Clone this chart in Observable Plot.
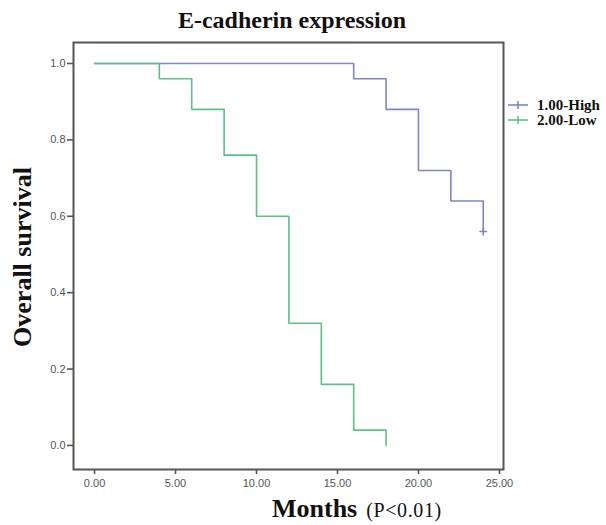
<!DOCTYPE html>
<html>
<head>
<meta charset="utf-8">
<script src="https://cdn.jsdelivr.net/npm/d3@7"></script>
<script src="https://cdn.jsdelivr.net/npm/@observablehq/plot@0.6"></script>
<style>
  html, body { margin: 0; padding: 0; background: #fff; }
  #chart { width: 606px; height: 525px; }
</style>
</head>
<body>
<div id="chart"></div>
<script>
// ---- data ----
const titleText = "E-cadherin expression";
const yLabelText = "Overall survival";
const xLabelText = "Months";
const xNoteText = "(P<0.01)";
const seriesNames = ["1.00-High", "2.00-Low"];
const seriesColors = ["#7f86c2", "#5fbf8a"];

const highTimes = [0, 16, 18, 20, 22, 24];
const highSurv  = [1.00, 0.96, 0.88, 0.72, 0.64, 0.56];
const highCensorTimes = [24];
const highCensorSurv  = [0.56];

const lowTimes = [0, 4, 6, 8, 10, 12, 14, 16, 18];
const lowSurv  = [1.00, 0.96, 0.88, 0.76, 0.60, 0.32, 0.16, 0.04, 0.00];

const xTicks = [0, 5, 10, 15, 20, 25];
const yTicks = [0, 0.2, 0.4, 0.6, 0.8, 1.0];

// ---- build tables ----
const highData = highTimes.map((t, i) => ({t, s: highSurv[i], g: seriesNames[0]}));
const lowData = lowTimes.map((t, i) => ({t, s: lowSurv[i], g: seriesNames[1]}));
const censorData = highCensorTimes.map((t, i) => ({t, s: highCensorSurv[i], g: seriesNames[0]}));

const W = 606, H = 525;
const mL = 73, mR = 103, mT = 42, mB = 56;

const plot = Plot.plot({
  width: W,
  height: H,
  marginLeft: mL,
  marginRight: mR,
  marginTop: mT,
  marginBottom: mB,
  style: {fontFamily: "'Liberation Sans', Arial, sans-serif", fontSize: "11px", color: "#555", background: "#fff"},
  x: {domain: [-1.3, 25.25]},
  y: {domain: [-0.063, 1.055]},
  color: {domain: seriesNames, range: seriesColors},
  marks: [
    Plot.axisX({ticks: xTicks, tickFormat: d3.format(".2f"), tickSize: 5, tickPadding: 5, label: null, stroke: "#555", strokeWidth: 1.6, fill: "#555"}),
    Plot.axisY({ticks: yTicks, tickFormat: d3.format(".1f"), tickSize: 6, tickPadding: 2, label: null, stroke: "#555", strokeWidth: 1.6, fill: "#555"}),
    Plot.line(highData, {x: "t", y: "s", stroke: "g", curve: "step-after", strokeWidth: 1.6}),
    Plot.line(lowData, {x: "t", y: "s", stroke: "g", curve: "step-after", strokeWidth: 1.6}),
    Plot.dot(censorData, {x: "t", y: "s", stroke: "g", symbol: "plus", r: 2.6, strokeWidth: 1.6}),
    Plot.frame({stroke: "#555", strokeWidth: 2})
  ]
});

document.getElementById("chart").appendChild(plot);

const svg = d3.select(plot);
const serif = "'Liberation Serif', 'Times New Roman', serif";

// title
svg.append("text")
  .attr("x", 292).attr("y", 28)
  .attr("text-anchor", "middle")
  .attr("font-family", serif).attr("font-weight", "bold").attr("font-size", 24)
  .attr("fill", "#111")
  .text(titleText);

// y label
svg.append("text")
  .attr("transform", "translate(31,257) rotate(-90)")
  .attr("text-anchor", "middle")
  .attr("font-family", serif).attr("font-weight", "bold").attr("font-size", 26)
  .attr("fill", "#111")
  .text(yLabelText);

// x label
const xl = svg.append("text")
  .attr("x", 272).attr("y", 517)
  .attr("text-anchor", "start")
  .attr("font-family", serif).attr("fill", "#111");
xl.append("tspan").attr("font-weight", "bold").attr("font-size", 26).text(xLabelText);
xl.append("tspan").attr("dx", 9).attr("font-size", 20).attr("letter-spacing", 0.6).text(xNoteText);

// legend
seriesNames.forEach((name, i) => {
  const y = 105 + i * 15;
  const g = svg.append("g");
  g.append("line").attr("x1", 508).attr("x2", 528).attr("y1", y).attr("y2", y)
    .attr("stroke", seriesColors[i]).attr("stroke-width", 1.6);
  g.append("line").attr("x1", 518).attr("x2", 518).attr("y1", y - 4).attr("y2", y + 4)
    .attr("stroke", seriesColors[i]).attr("stroke-width", 1.6);
  g.append("text").attr("x", 537).attr("y", y + 5)
    .attr("text-anchor", "start")
    .attr("font-family", serif).attr("font-weight", "bold").attr("font-size", 15)
    .attr("fill", "#111")
    .text(name);
});
</script>
</body>
</html>
